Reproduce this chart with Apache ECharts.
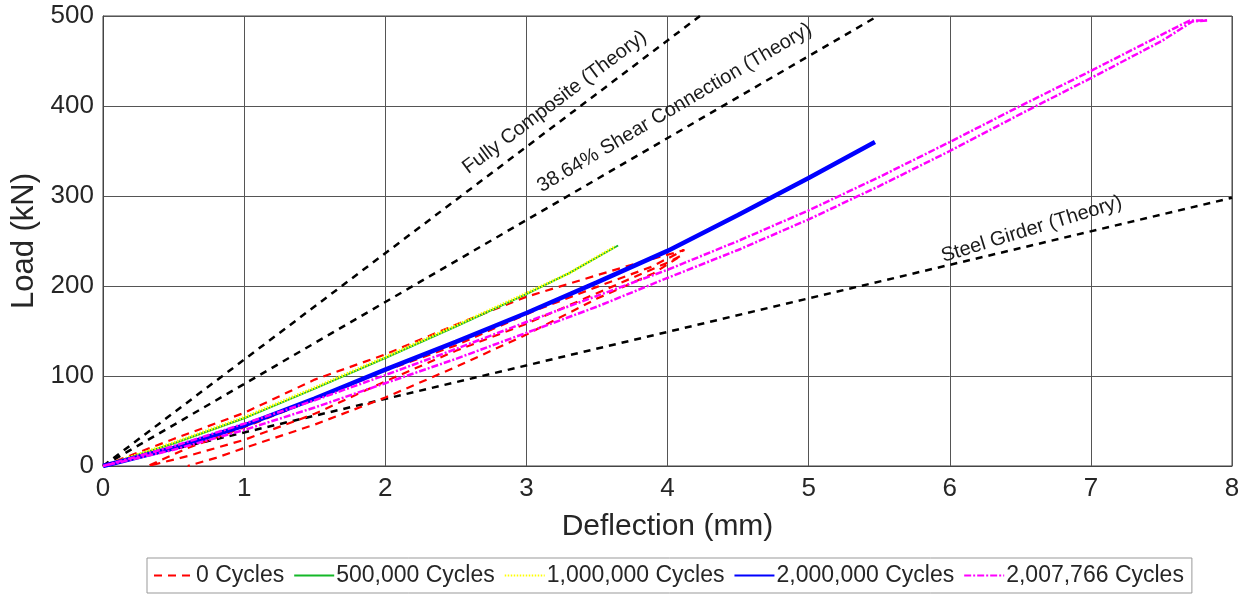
<!DOCTYPE html>
<html>
<head>
<meta charset="utf-8">
<script src="https://cdn.jsdelivr.net/npm/echarts@6/dist/echarts.min.js"></script>
<style>
html,body{margin:0;padding:0;background:#fff;}
#chart{width:1252px;height:594px;}
</style>
</head>
<body>
<div id="chart"></div>
<script>
// ---- data (deflection mm, load kN) ----
const seriesNames = ['0 Cycles', '500,000 Cycles', '1,000,000 Cycles', '2,000,000 Cycles', '2,007,766 Cycles'];

const cycles0 = [[0,0],[0.5,30],[1,59],[1.5,96],[2,124],[2.5,157],[3,188],[3.5,212],[3.8,226],[4.12,240],
  [3.88,221],[3.5,199],[3.05,172],[2.5,134],[2,106],[1.5,74],[1,43],[0.6,20],[0.32,0],
  [0.6,11],[1,29],[1.5,58],[2,94],[2.5,128],[3,158],[3.5,192],[4,226],[4.1,234],
  [3.9,214],[3.5,186],[3,146],[2.5,110],[2,76],[1.5,46],[1,20],[0.8,9],[0.6,0]];
const cycles500k = [[0,0],[0.5,25],[1,53],[1.5,86],[2,120],[2.5,155],[3,191],[3.3,214],[3.65,245]];
const cycles1M = [[0,0],[0.5,26],[1,54],[1.5,87],[2,121],[2.5,156],[3,192],[3.3,214],[3.63,244]];
const cycles2M = [[0,0],[0.5,20],[1,45],[1.5,75],[2,107],[2.5,138],[3,170],[3.5,204],[4,239],[4.5,279],[5,320],[5.47,360]];
const cycles2007k = [[0,0],[0.5,22],[1,47],[1.5,73],[2,101],[2.5,130],[3,160],[3.5,189],[4,218],[4.5,250],[5,284],[5.5,321],[6,360],[6.5,400],[7,439],[7.5,479],[7.7,495],[7.83,495],
  [7.72,494],[7.5,472],[7,431],[6.5,391],[6,350],[5.5,311],[5,274],[4.5,240],[4,209],[3.5,177],[3,148],[2.5,119],[2,92],[1.5,65],[1,40],[0.5,18],[0,0]];

const fullyComposite = [[0,0],[4.23,500]];
const shearConnection = [[0,0],[5.49,500]];
const steelGirder = [[0,0],[8,298]];

const theoryLabels = ['Fully Composite (Theory)', '38.64% Shear Connection (Theory)', 'Steel Girder (Theory)'];
const theoryLabelAnchors = [[3.2,404],[4.05,398],[6.58,263]];
const theoryLabelAngles = [37, 30.5, 17];

// ---- chart ----
const FONT = '"Liberation Sans", Arial, sans-serif';
const chart = echarts.init(document.getElementById('chart'), null, {renderer:'canvas'});
const theorySeries = (data) => ({
  type:'line', data, symbol:'none', silent:true, z:1,
  lineStyle:{color:'#000', width:2.5, type:[7,6]}
});
const option = {
  animation:false,
  backgroundColor:'#fff',
  grid:{left:103, right:20, top:16, bottom:128, show:true, borderColor:'#444', borderWidth:1},
  xAxis:{
    type:'value', min:0, max:8, interval:1,
    name:'Deflection (mm)', nameLocation:'middle', nameGap:46,
    nameTextStyle:{fontFamily:FONT, fontSize:30, color:'#262626'},
    axisLine:{show:true, lineStyle:{color:'#444'}},
    axisTick:{show:false},
    axisLabel:{fontFamily:FONT, fontSize:26, color:'#262626', margin:10},
    splitLine:{show:true, lineStyle:{color:'#555', width:1}}
  },
  yAxis:{
    type:'value', min:0, max:500, interval:100,
    name:'Load (kN)', nameLocation:'middle', nameGap:57,
    nameTextStyle:{fontFamily:FONT, fontSize:31, color:'#262626'},
    axisLine:{show:true, lineStyle:{color:'#444'}},
    axisTick:{show:false},
    axisLabel:{fontFamily:FONT, fontSize:26, color:'#262626', margin:9},
    splitLine:{show:true, lineStyle:{color:'#555', width:1}}
  },
  legend:{
    data:seriesNames,
    bottom:1, left:147,
    orient:'horizontal',
    itemWidth:40, itemHeight:12, itemGap:9,
    padding:[6,8,6,6],
    borderColor:'#999', borderWidth:1,
    itemStyle:{opacity:0},
    textStyle:{fontFamily:FONT, fontSize:23, color:'#262626', padding:[0,0,0,-3]}
  },
  series:[
    theorySeries(fullyComposite),
    theorySeries(shearConnection),
    theorySeries(steelGirder),
    {name:seriesNames[0], type:'line', data:cycles0, symbol:'none', z:2,
      lineStyle:{color:'#ff0000', width:2.2, type:[8,6]}, itemStyle:{color:'#ff0000'}},
    {name:seriesNames[1], type:'line', data:cycles500k, symbol:'none', z:3,
      lineStyle:{color:'#14b828', width:2, type:'solid'}, itemStyle:{color:'#14b828'}},
    {name:seriesNames[2], type:'line', data:cycles1M, symbol:'none', z:4,
      lineStyle:{color:'#ffff00', width:3, type:[1.5,1.5]}, itemStyle:{color:'#ffff00'}},
    {name:seriesNames[3], type:'line', data:cycles2M, symbol:'none', z:5,
      lineStyle:{color:'#0000ff', width:4.5, type:'solid'}, itemStyle:{color:'#0000ff'}},
    {name:seriesNames[4], type:'line', data:cycles2007k, symbol:'none', z:6,
      lineStyle:{color:'#ff00ff', width:2.5, type:[7,2,2,2]}, itemStyle:{color:'#ff00ff'}}
  ]
};
chart.setOption(option);

const graphics = theoryLabels.map((t, i) => {
  const p = chart.convertToPixel({gridIndex:0}, theoryLabelAnchors[i]);
  return {
    type:'text', x:p[0], y:p[1], rotation:theoryLabelAngles[i]*Math.PI/180, z:10,
    style:{text:t, fontFamily:FONT, fontSize:20, fill:'#1a1a1a', align:'center', verticalAlign:'middle'}
  };
});
chart.setOption({graphic:graphics});
</script>
</body>
</html>
